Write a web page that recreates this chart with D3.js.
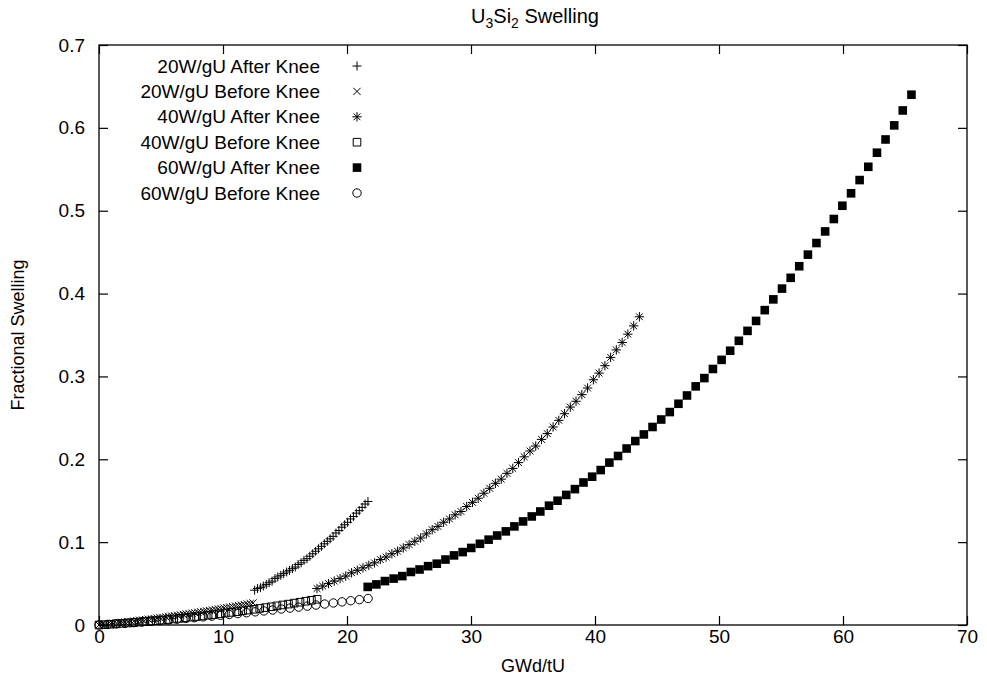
<!DOCTYPE html>
<html>
<head>
<meta charset="utf-8">
<script src="https://cdn.jsdelivr.net/npm/d3@7"></script>
<style>
  body { margin: 0; background: #fff; }
  text { font-family: "Liberation Sans", Arial, Helvetica, sans-serif; fill: #000; }
</style>
</head>
<body>
<div id="chart"></div>
<script>
// tick labels
const xTicks = [0, 10, 20, 30, 40, 50, 60, 70];
const yTicks = [0, 0.1, 0.2, 0.3, 0.4, 0.5, 0.6, 0.7];

const seriesNames = [
    '20W/gU After Knee', '20W/gU Before Knee',
    '40W/gU After Knee', '40W/gU Before Knee',
    '60W/gU After Knee', '60W/gU Before Knee'
];

// 20W/gU after knee
const w20AfterX = [12.55, 12.78, 13.02, 13.25, 13.49, 13.72, 13.96, 14.19, 14.42, 14.66, 14.89, 15.13, 15.36, 15.60,
    15.83, 16.06, 16.30, 16.53, 16.77, 17.00, 17.24, 17.47, 17.70, 17.94, 18.17, 18.41, 18.64, 18.88, 19.11, 19.35,
    19.58, 19.81, 20.05, 20.28, 20.52, 20.75, 20.99, 21.22, 21.46, 21.69];
const w20AfterY = [0.042, 0.044, 0.045, 0.047, 0.049, 0.051, 0.053, 0.056, 0.058, 0.060, 0.062, 0.064, 0.066, 0.068,
    0.070, 0.073, 0.075, 0.078, 0.080, 0.083, 0.086, 0.089, 0.092, 0.095, 0.098, 0.101, 0.104, 0.107, 0.111, 0.114,
    0.118, 0.121, 0.124, 0.128, 0.131, 0.135, 0.138, 0.142, 0.146, 0.149];

// 20W/gU before knee
const w20BeforeX = [0, 0.23, 0.47, 0.70, 0.94, 1.17, 1.41, 1.64, 1.87, 2.11, 2.34, 2.58, 2.81, 3.05, 3.28, 3.51, 3.75,
    3.98, 4.22, 4.45, 4.69, 4.92, 5.15, 5.39, 5.62, 5.86, 6.09, 6.33, 6.56, 6.80, 7.03, 7.26, 7.50, 7.73, 7.97, 8.20,
    8.44, 8.67, 8.90, 9.14, 9.37, 9.61, 9.84, 10.08, 10.31, 10.54, 10.78, 11.01, 11.25, 11.48, 11.72, 11.95, 12.19, 12.42];
const w20BeforeY = [0, 0.0004, 0.0007, 0.0011, 0.0015, 0.0019, 0.0023, 0.0027, 0.0031, 0.0035, 0.0039, 0.0043, 0.0047,
    0.0052, 0.0056, 0.0060, 0.0065, 0.0069, 0.0074, 0.0078, 0.0083, 0.0088, 0.0092, 0.0097, 0.0102, 0.0107, 0.0112,
    0.0117, 0.0122, 0.0127, 0.0132, 0.0137, 0.0143, 0.0148, 0.0154, 0.0159, 0.0164, 0.0170, 0.0175, 0.0181, 0.0187,
    0.0193, 0.0198, 0.0204, 0.0210, 0.0216, 0.0222, 0.0228, 0.0234, 0.0240, 0.0247, 0.0253, 0.0259, 0.0266];

// 40W/gU after knee
const w40AfterX = [17.58, 18.04, 18.51, 18.97, 19.44, 19.90, 20.37, 20.83, 21.29, 21.76, 22.22, 22.69, 23.15, 23.62,
    24.08, 24.54, 25.01, 25.47, 25.94, 26.40, 26.87, 27.33, 27.79, 28.26, 28.72, 29.19, 29.65, 30.12, 30.58, 31.04,
    31.51, 31.97, 32.44, 32.90, 33.37, 33.83, 34.29, 34.76, 35.22, 35.69, 36.15, 36.62, 37.08, 37.54, 38.01, 38.47,
    38.94, 39.40, 39.87, 40.33, 40.80, 41.26, 41.72, 42.19, 42.65, 43.12, 43.58];
const w40AfterY = [0.044, 0.047, 0.050, 0.053, 0.056, 0.059, 0.063, 0.066, 0.069, 0.072, 0.075, 0.079, 0.082, 0.086,
    0.089, 0.093, 0.097, 0.101, 0.105, 0.110, 0.115, 0.119, 0.124, 0.128, 0.133, 0.137, 0.143, 0.148, 0.153, 0.159,
    0.165, 0.171, 0.176, 0.183, 0.189, 0.196, 0.203, 0.210, 0.216, 0.224, 0.231, 0.239, 0.247, 0.255, 0.263, 0.270,
    0.278, 0.286, 0.296, 0.304, 0.313, 0.323, 0.332, 0.341, 0.351, 0.361, 0.372];

// 40W/gU before knee
const w40BeforeX = [0, 0.46, 0.93, 1.39, 1.85, 2.32, 2.78, 3.24, 3.70, 4.17, 4.63, 5.09, 5.56, 6.02, 6.48, 6.95, 7.41,
    7.87, 8.33, 8.80, 9.26, 9.72, 10.19, 10.65, 11.11, 11.58, 12.04, 12.50, 12.96, 13.43, 13.89, 14.35, 14.82, 15.28,
    15.74, 16.21, 16.67, 17.13, 17.59];
const w40BeforeY = [0, 0.0004, 0.0009, 0.0014, 0.0019, 0.0024, 0.0029, 0.0035, 0.0041, 0.0047, 0.0053, 0.0059, 0.0066,
    0.0073, 0.0080, 0.0087, 0.0095, 0.0102, 0.0110, 0.0118, 0.0126, 0.0135, 0.0144, 0.0152, 0.0161, 0.0171, 0.0180,
    0.0190, 0.0200, 0.0210, 0.0220, 0.0231, 0.0242, 0.0252, 0.0264, 0.0275, 0.0287, 0.0298, 0.0310];

// 60W/gU after knee
const w60AfterX = [21.67, 22.37, 23.06, 23.76, 24.46, 25.15, 25.85, 26.54, 27.24, 27.94, 28.63, 29.33, 30.02, 30.72,
    31.42, 32.11, 32.81, 33.50, 34.20, 34.90, 35.59, 36.29, 36.98, 37.68, 38.38, 39.07, 39.77, 40.46, 41.16, 41.86,
    42.55, 43.25, 43.94, 44.64, 45.34, 46.03, 46.73, 47.42, 48.12, 48.82, 49.51, 50.21, 50.90, 51.60, 52.30, 52.99,
    53.69, 54.38, 55.08, 55.78, 56.47, 57.17, 57.86, 58.56, 59.26, 59.95, 60.65, 61.34, 62.04, 62.74, 63.43, 64.13,
    64.82, 65.52];
const w60AfterY = [0.046, 0.049, 0.053, 0.056, 0.059, 0.064, 0.067, 0.071, 0.074, 0.079, 0.084, 0.088, 0.093, 0.098,
    0.103, 0.108, 0.113, 0.119, 0.125, 0.131, 0.137, 0.144, 0.150, 0.157, 0.164, 0.172, 0.179, 0.187, 0.196, 0.204,
    0.213, 0.222, 0.230, 0.239, 0.248, 0.257, 0.267, 0.277, 0.288, 0.298, 0.309, 0.320, 0.331, 0.343, 0.355, 0.367,
    0.380, 0.393, 0.406, 0.419, 0.433, 0.447, 0.461, 0.475, 0.490, 0.506, 0.521, 0.537, 0.553, 0.570, 0.586, 0.603,
    0.621, 0.640];

// 60W/gU before knee
const w60BeforeX = [0, 0.7, 1.4, 2.1, 2.8, 3.5, 4.2, 4.9, 5.6, 6.3, 7.0, 7.7, 8.4, 9.1, 9.8, 10.5, 11.2, 11.9, 12.6,
    13.3, 14.0, 14.7, 15.4, 16.1, 16.8, 17.5, 18.2, 18.9, 19.6, 20.3, 21.0, 21.7];
const w60BeforeY = [0, 0.0007, 0.0014, 0.0021, 0.0029, 0.0037, 0.0045, 0.0053, 0.0061, 0.0070, 0.0079, 0.0088, 0.0098,
    0.0107, 0.0117, 0.0127, 0.0138, 0.0148, 0.0159, 0.0170, 0.0181, 0.0193, 0.0204, 0.0216, 0.0228, 0.0241, 0.0253,
    0.0266, 0.0279, 0.0293, 0.0306, 0.0320];

// marker shapes (gnuplot point types)
const shapes = {
    plus: 'M-4.5,0H4.5M0,-4.5V4.5',
    cross: 'M-3.6,-3.6L3.6,3.6M-3.6,3.6L3.6,-3.6',
    star: 'M-4.7,0H4.7M0,-4.7V4.7M-3.4,-3.4L3.4,3.4M-3.4,3.4L3.4,-3.4',
    openSquare: 'M-3.8,-3.8H3.8V3.8H-3.8Z',
    filledSquare: 'M-4.3,-4.3H4.3V4.3H-4.3Z',
    circle: 'M4.2,0A4.2,4.2 0 1,1 -4.2,0A4.2,4.2 0 1,1 4.2,0Z'
};

const series = [
    { name: seriesNames[0], xs: w20AfterX, ys: w20AfterY, shape: 'plus', fill: false },
    { name: seriesNames[1], xs: w20BeforeX, ys: w20BeforeY, shape: 'cross', fill: false },
    { name: seriesNames[2], xs: w40AfterX, ys: w40AfterY, shape: 'star', fill: false },
    { name: seriesNames[3], xs: w40BeforeX, ys: w40BeforeY, shape: 'openSquare', fill: false },
    { name: seriesNames[4], xs: w60AfterX, ys: w60AfterY, shape: 'filledSquare', fill: true },
    { name: seriesNames[5], xs: w60BeforeX, ys: w60BeforeY, shape: 'circle', fill: false }
];

const margin = { top: 45, right: 20, bottom: 61, left: 99 };
const width = 987 - margin.left - margin.right;
const height = 686 - margin.top - margin.bottom;

const svg = d3.select('#chart')
    .append('svg')
    .attr('width', 987)
    .attr('height', 686);

const group = svg.append('g')
    .attr('transform', 'translate(' + margin.left + ',' + margin.top + ')');

const xScale = d3.scaleLinear().domain([0, 70]).range([0, width]);
const yScale = d3.scaleLinear().domain([0, 0.7]).range([height, 0]);

const fmtY = d => d === 0 ? '0' : d3.format('.1f')(d);

// axes with inward ticks, mirrored on top and right
const xAxis = d3.axisBottom(xScale).tickValues(xTicks).tickSize(-9).tickPadding(5);
const yAxis = d3.axisLeft(yScale).tickValues(yTicks).tickSize(-9).tickPadding(14).tickFormat(fmtY);
const xAxisTop = d3.axisTop(xScale).tickValues(xTicks).tickSize(-9).tickFormat('');
const yAxisRight = d3.axisRight(yScale).tickValues(yTicks).tickSize(-9).tickFormat('');

function styleAxis(g) {
    g.select('.domain').remove();
    g.selectAll('line').attr('stroke', '#000').attr('stroke-width', 1.2);
    g.selectAll('text').style('font-size', '19px').attr('fill', '#000');
}

group.append('g').attr('class', 'x-axis axis')
    .attr('transform', 'translate(0,' + height + ')')
    .call(xAxis).call(styleAxis);
group.append('g').attr('class', 'y-axis axis')
    .call(yAxis).call(styleAxis);
group.append('g').call(xAxisTop).call(styleAxis);
group.append('g').attr('transform', 'translate(' + width + ',0)')
    .call(yAxisRight).call(styleAxis);

group.append('rect')
    .attr('width', width)
    .attr('height', height)
    .attr('fill', 'none')
    .attr('stroke', '#000')
    .attr('stroke-width', 1.3);

// points
series.forEach(s => {
    const pts = s.xs.map((x, i) => [x, s.ys[i]]);
    group.append('g')
        .selectAll('path')
        .data(pts)
        .join('path')
        .attr('transform', d => 'translate(' + xScale(d[0]) + ',' + yScale(d[1]) + ')')
        .attr('d', shapes[s.shape])
        .attr('fill', s.fill ? '#000' : 'none')
        .attr('stroke', s.fill ? 'none' : '#000')
        .attr('stroke-width', 1);
});

// legend
const legend = group.append('g').attr('transform', 'translate(0,21)');
series.forEach((s, i) => {
    const row = legend.append('g').attr('transform', 'translate(0,' + (i * 25.4) + ')');
    row.append('text')
        .attr('x', 221)
        .attr('dy', '0.35em')
        .attr('text-anchor', 'end')
        .style('font-size', '19px')
        .text(s.name);
    row.append('path')
        .attr('transform', 'translate(258,0)')
        .attr('d', shapes[s.shape])
        .attr('fill', s.fill ? '#000' : 'none')
        .attr('stroke', s.fill ? 'none' : '#000')
        .attr('stroke-width', 1);
});

// title and axis labels
const title = svg.append('text')
    .attr('x', 535)
    .attr('y', 23)
    .attr('text-anchor', 'middle')
    .style('font-size', '20px');
title.append('tspan').text('U');
title.append('tspan').attr('dy', 5).style('font-size', '14px').text('3');
title.append('tspan').attr('dy', -5).text('Si');
title.append('tspan').attr('dy', 5).style('font-size', '14px').text('2');
title.append('tspan').attr('dy', -5).text(' Swelling');

svg.append('text')
    .attr('x', margin.left + width / 2)
    .attr('y', 672)
    .attr('text-anchor', 'middle')
    .style('font-size', '18px')
    .text('GWd/tU');

svg.append('text')
    .attr('transform', 'translate(24,' + (margin.top + height / 2) + ') rotate(-90)')
    .attr('text-anchor', 'middle')
    .style('font-size', '18px')
    .text('Fractional Swelling');
</script>
</body>
</html>
